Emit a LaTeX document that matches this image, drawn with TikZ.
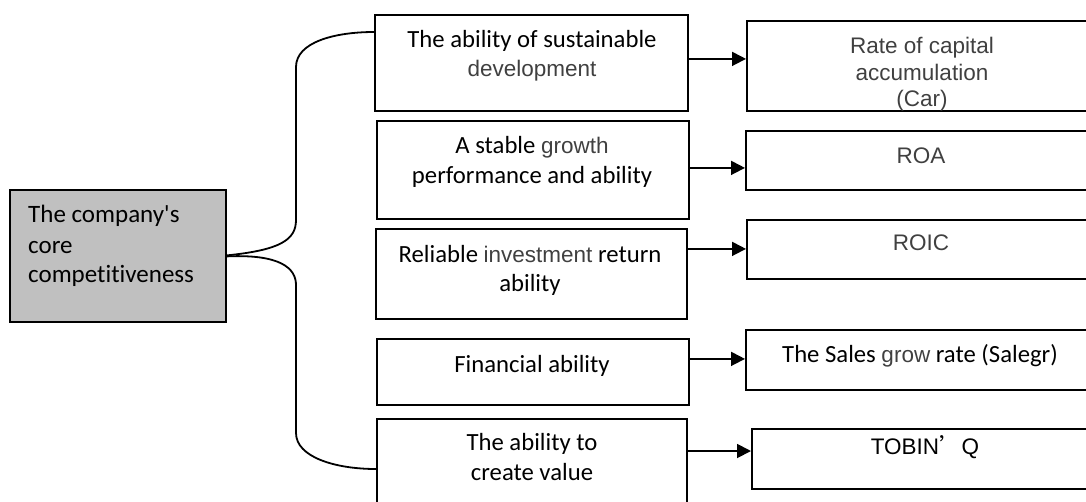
\documentclass[tikz,border=0pt]{standalone}
\usepackage{fontspec}
\setmainfont{Carlito}[Ligatures={TeXOff,NoCommon}]
\newfontfamily\arialf{Liberation Sans}
\newfontfamily\cjkf{Noto Sans CJK SC}
\usetikzlibrary{arrows.meta}
\definecolor{boxgray}{RGB}{192,192,192}
\definecolor{txtgray}{RGB}{64,64,64}
\newcommand{\grw}[1]{{\color{txtgray}\arialf\fontsize{22.5}{26}\selectfont #1}}
\begin{document}
\begin{tikzpicture}[x=1pt,y=-1pt,
  boxx/.style={draw=black,line width=1.8pt,inner sep=0pt,anchor=north west},
  cal/.style={font=\fontsize{24.7}{30}\selectfont,inner sep=0pt,anchor=base},
  calL/.style={font=\fontsize{25}{30}\selectfont,inner sep=0pt,anchor=base west},
  ar/.style={font=\arialf\fontsize{22.5}{26}\selectfont,text=txtgray,inner sep=0pt,anchor=base},
  arr/.style={line width=1.8pt,-{Triangle[length=14pt,width=14pt]}},
  brace/.style={line width=1.8pt}]
\useasboundingbox (0,0) rectangle (1086,501);
\clip (0,0) rectangle (1086,501);
% left box
\node[boxx,fill=boxgray,minimum width=216pt,minimum height=132pt] (L) at (9,189) {};
\node[calL] (lt1) at (28,222) {The company's};
\node[calL] (lt2) at (28,253) {core};
\node[calL] (lt3) at (28,282) {competitiveness};
% middle boxes
\node[boxx,minimum width=313pt,minimum height=96pt] (b1) at (374,14) {};
\node[boxx,minimum width=312pt,minimum height=98pt] (b2) at (376,120) {};
\node[boxx,minimum width=311pt,minimum height=90pt] (b3) at (375,228) {};
\node[boxx,minimum width=312pt,minimum height=66pt] (b4) at (376,338) {};
\node[boxx,minimum width=310pt,minimum height=110pt] (b5) at (376,418) {};
\node[cal] (t1a) at (532,47) {The ability of sustainable};
\node[cal] (t1b) at (532,76) {\grw{development}};
\node[cal] (t2a) at (532,153) {A stable \grw{growth}};
\node[cal] (t2b) at (532,183) {performance and ability};
\node[cal] (t3a) at (530,262) {Reliable \grw{investment} return};
\node[cal] (t3b) at (530,291) {ability};
\node[cal] (t4a) at (532,372) {Financial ability};
\node[cal] (t5a) at (532,450) {The ability to};
\node[cal] (t5b) at (532,480) {create value};
% right boxes
\node[boxx,minimum width=360pt,minimum height=90pt] (r1) at (746,20) {};
\node[boxx,minimum width=360pt,minimum height=59pt] (r2) at (745,130) {};
\node[boxx,minimum width=360pt,minimum height=59pt] (r3) at (746,219) {};
\node[boxx,minimum width=360pt,minimum height=60pt] (r4) at (745,329) {};
\node[boxx,minimum width=360pt,minimum height=60pt] (r5) at (751,428) {};
\node[ar] (s1a) at (922,53) {Rate of capital};
\node[ar] (s1b) at (922,80) {accumulation};
\node[ar] (s1c) at (922,106) {(Car)};
\node[ar] (s2a) at (921,163) {ROA};
\node[ar] (s3a) at (921,250) {ROIC};
\node[cal] (s4a) at (920,362) {The Sales \grw{grow} rate (Salegr)};
\node[ar,text=black] (s5a) at (925,454) {TOBIN{\cjkf ’}Q};
% arrows
\coordinate (a1) at ([yshift=4pt]b1.east);
\coordinate (a2) at ([yshift=2pt]b2.east);
\coordinate (a3) at ([yshift=25pt]b3.east);
\coordinate (a4) at ([yshift=13pt]b4.east);
\coordinate (a5) at (b5.east |- 0,451);
\draw[arr] (a1) -- (a1 -| r1.west);
\draw[arr] (a2) -- (a2 -| r2.west);
\draw[arr] (a3) -- (a3 -| r3.west);
\draw[arr] (a4) -- (a4 -| r4.west);
\draw[arr] (a5) -- (a5 -| r5.west);
% brace
\coordinate (bt) at ([yshift=-18pt]b1.north west);
\coordinate (bb) at ([yshift=-51pt]b5.north west);
\draw[brace] ([yshift=0.5pt]L.east) .. controls (280,250) and (296,240) .. (296,220)
  -- (296,67) .. controls (296,42) and (335,32) .. (bt);
\draw[brace] ([yshift=-0.5pt]L.east) .. controls (280,254) and (296,268) .. (296,285)
  -- (296,433) .. controls (296,457) and (335,469) .. (bb);
\end{tikzpicture}
\end{document}
